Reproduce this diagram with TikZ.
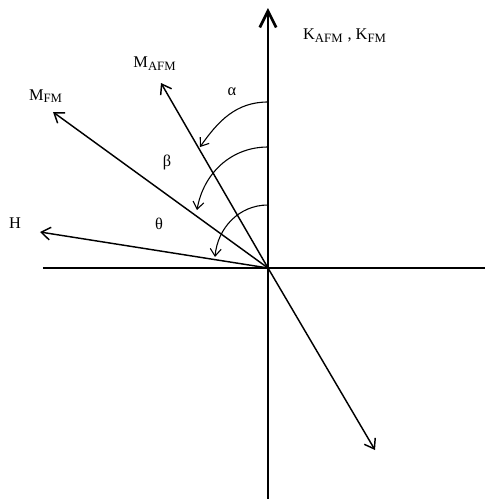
\documentclass[tikz,border=0pt]{standalone}
\usepackage{fontspec}
\setmainfont{Liberation Serif}
\usepackage{amsmath}
\usetikzlibrary{arrows.meta}

\tikzset{
  axisline/.style={line width=1.5pt},
  vecline/.style={line width=0.8pt,-{Straight Barb[length=5pt,width=7pt]}},
  anglearc/.style={line width=0.6pt,-{Straight Barb[length=4pt,width=6pt]}},
  lbl/.style={font=\small,inner sep=1pt}
}

\begin{document}
\begin{tikzpicture}[x=0.55pt,y=0.55pt]
\useasboundingbox (-268,-231) rectangle (217,268);
% axes
\coordinate (O) at (0,0);
\coordinate (ktop) at (0,260); \coordinate (kbot) at (0,-231);
\coordinate (xl) at (-225,0); \coordinate (xr) at (217,0);
\draw[axisline] (xl) -- (xr);
\draw[axisline] (kbot) -- (O);
\draw[axisline,-{Straight Barb[length=9pt,width=9pt,line width=1.5pt]}] (O) -- (ktop);
% vectors
\coordinate (mafm) at (-107,185);
\coordinate (mfm) at (-215,156);
\coordinate (h) at (-228,36);
\coordinate (mdown) at (107,-182);
\draw[vecline] (O) -- (mafm);
\draw[vecline] (O) -- (mfm);
\draw[vecline] (O) -- (h);
\draw[vecline] (O) -- (mdown);
% angles
\coordinate (a0) at (0,166); \coordinate (a1) at (-68,121);
\coordinate (b0) at (0,121); \coordinate (b1) at (-71,58);
\coordinate (t0) at (0,63);  \coordinate (t1) at (-53,11);
\draw[anglearc] (a0) to[out=180,in=55] (a1);
\draw[anglearc] (b0) to[out=180,in=80] (b1);
\draw[anglearc] (t0) to[out=180,in=85] (t1);
% labels
\node[lbl,anchor=west] (klbl) at (33,232) {K$_{\text{\scriptsize AFM}}$ , K$_{\text{\scriptsize FM}}$};
\node[lbl] (mafmlbl) at (-113,204) {M$_{\text{\scriptsize AFM}}$};
\node[lbl] (mfmlbl) at (-222,172) {M$_{\text{\scriptsize FM}}$};
\node[lbl] (hlbl) at (-253,45) {H};
\node[lbl] (alpha) at (-36,176) {α};
\node[lbl] (beta) at (-101,106) {β};
\node[lbl] (theta) at (-109,44) {θ};
\end{tikzpicture}
\end{document}
